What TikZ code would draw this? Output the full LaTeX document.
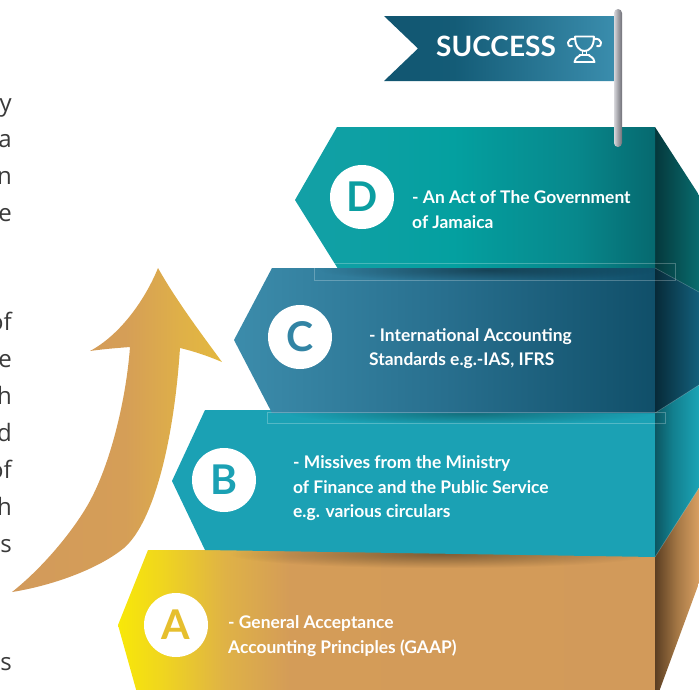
\documentclass[tikz,border=0pt]{standalone}
\usepackage{fontspec}
\setmainfont{Lato}
\newfontfamily\bodyfont{Open Sans}
\usetikzlibrary{fadings}

% palette
\definecolor{bodygrey}{HTML}{3A3A3A}
\definecolor{dLetter}{HTML}{0B9EA1}
\definecolor{cLetter}{HTML}{3284A4}
\definecolor{bLetter}{HTML}{1BA1B4}
\definecolor{aLetter}{HTML}{E6BF2E}
\definecolor{bFront}{HTML}{1BA1B4}

% horizontal colour ramps (the filled path spans 25bp to 75bp)
\pgfdeclarehorizontalshading{dfront}{100bp}{color(0bp)=({rgb,255:red,20;green,160;blue,166}); color(25bp)=({rgb,255:red,20;green,160;blue,166}); color(47bp)=({rgb,255:red,4;green,160;blue,160}); color(64bp)=({rgb,255:red,7;green,136;blue,140}); color(75bp)=({rgb,255:red,6;green,105;blue,111}); color(100bp)=({rgb,255:red,6;green,105;blue,111})}
\pgfdeclarehorizontalshading{dside}{100bp}{color(0bp)=({rgb,255:red,5;green,56;blue,60}); color(25bp)=({rgb,255:red,5;green,56;blue,60}); color(75bp)=({rgb,255:red,8;green,108;blue,110}); color(100bp)=({rgb,255:red,8;green,108;blue,110})}
\pgfdeclarehorizontalshading{cfront}{100bp}{color(0bp)=({rgb,255:red,60;green,140;blue,171}); color(25bp)=({rgb,255:red,60;green,140;blue,171}); color(50bp)=({rgb,255:red,40;green,111;blue,142}); color(75bp)=({rgb,255:red,16;green,79;blue,105}); color(100bp)=({rgb,255:red,16;green,79;blue,105})}
\pgfdeclarehorizontalshading{cside}{100bp}{color(0bp)=({rgb,255:red,7;green,42;blue,56}); color(25bp)=({rgb,255:red,7;green,42;blue,56}); color(75bp)=({rgb,255:red,19;green,96;blue,124}); color(100bp)=({rgb,255:red,19;green,96;blue,124})}
\pgfdeclarehorizontalshading{bside}{100bp}{color(0bp)=({rgb,255:red,12;green,86;blue,98}); color(25bp)=({rgb,255:red,12;green,86;blue,98}); color(45bp)=({rgb,255:red,18;green,127;blue,142}); color(75bp)=({rgb,255:red,27;green,164;blue,182}); color(100bp)=({rgb,255:red,27;green,164;blue,182})}
\pgfdeclarehorizontalshading{afront}{100bp}{color(0bp)=({rgb,255:red,248;green,232;blue,8}); color(25bp)=({rgb,255:red,248;green,232;blue,8}); color(29bp)=({rgb,255:red,240;green,214;blue,30}); color(35bp)=({rgb,255:red,223;green,178;blue,70}); color(41bp)=({rgb,255:red,212;green,156;blue,88}); color(75bp)=({rgb,255:red,210;green,154;blue,90}); color(100bp)=({rgb,255:red,210;green,154;blue,90})}
\pgfdeclarehorizontalshading{aside}{100bp}{color(0bp)=({rgb,255:red,91;green,62;blue,34}); color(25bp)=({rgb,255:red,91;green,62;blue,34}); color(50bp)=({rgb,255:red,164;green,119;blue,69}); color(75bp)=({rgb,255:red,217;green,160;blue,98}); color(100bp)=({rgb,255:red,217;green,160;blue,98})}
\pgfdeclarehorizontalshading{risegrad}{100bp}{color(0bp)=({rgb,255:red,210;green,154;blue,91}); color(25bp)=({rgb,255:red,210;green,154;blue,91}); color(52bp)=({rgb,255:red,213;green,158;blue,87}); color(65bp)=({rgb,255:red,223;green,176;blue,72}); color(75bp)=({rgb,255:red,227;green,184;blue,63}); color(100bp)=({rgb,255:red,227;green,184;blue,63})}
\pgfdeclarehorizontalshading{flaggrad}{100bp}{color(0bp)=({rgb,255:red,17;green,85;blue,112}); color(25bp)=({rgb,255:red,17;green,85;blue,112}); color(40bp)=({rgb,255:red,20;green,92;blue,119}); color(75bp)=({rgb,255:red,59;green,142;blue,174}); color(100bp)=({rgb,255:red,59;green,142;blue,174})}
\pgfdeclarehorizontalshading{polegrad}{100bp}{color(0bp)=({rgb,255:red,215;green,215;blue,219}); color(25bp)=({rgb,255:red,215;green,215;blue,219}); color(50bp)=({rgb,255:red,160;green,160;blue,166}); color(75bp)=({rgb,255:red,112;green,112;blue,119}); color(100bp)=({rgb,255:red,112;green,112;blue,119})}

\tikzfading[name=softshadow, inner color=transparent!0, outer color=transparent!100]

\tikzset{
  bodytext/.style={font=\bodyfont\fontsize{24}{28}\selectfont, text=bodygrey, anchor=base east, inner sep=0},
  steptext/.style={font=\fontsize{17.4}{20}\selectfont\bfseries, text=white, anchor=base west, inner sep=0},
  badge/.style={circle, fill=white, minimum size=64pt, inner sep=0, font=\fontsize{41}{41}\selectfont\bfseries},
  castshadow/.style={fill=black, path fading=softshadow},
  ghostline/.style={draw=white, draw opacity=0.25, line width=0.6pt},
  trophy/.style={draw=white, line width=1.9pt, line cap=round, line join=round}
}

\begin{document}
\begin{tikzpicture}[x=1pt, y=-1pt]
\useasboundingbox (0,0) rectangle (699,689);
\clip (0,0) rectangle (699,689);

% line endings of the paragraph on the left
\node[bodytext] (t1) at (12,111) {y};
\node[bodytext] (t2) at (12,147) {a};
\node[bodytext] (t3) at (12,184) {n};
\node[bodytext] (t4) at (12,221) {e};
\node[bodytext] (t5) at (12,330) {of};
\node[bodytext] (t6) at (12,367) {e};
\node[bodytext] (t7) at (12,404) {h};
\node[bodytext] (t8) at (12,441) {d};
\node[bodytext] (t9) at (12,478) {of};
\node[bodytext] (t10) at (12,515) {h};
\node[bodytext] (t11) at (12,552) {s};
\node[bodytext] (t12) at (12,670) {s};

% rising arrow
\shade[shading=risegrad]
  (158,268) .. controls (176,300) and (200,332) .. (222,362)
  .. controls (208,356) and (193,351) .. (180,348)
  .. controls (174,440) and (154,522) .. (124,548)
  .. controls (97,570) and (50,586) .. (12,592)
  .. controls (45,566) and (78,525) .. (92,497)
  .. controls (111,460) and (126,400) .. (130,347)
  .. controls (117,348) and (104,349) .. (90,351)
  .. controls (120,335) and (145,300) .. (158,268) -- cycle;

% step D
\shade[shading=dside] (655,127) -- (699,195) -- (699,300) -- (655,300) -- cycle;
\shade[shading=dfront] (337,127) -- (655,127) -- (655,272) -- (340,272) -- (295,200) -- cycle;
\node[badge, text=dLetter] (bD) at (362,197) {D};
\node[steptext] (d1) at (412,203) {- An Act of The Government};
\node[steptext] (d2) at (412,228) {of Jamaica};

% step A
\shade[shading=afront] (148,550) -- (655,550) -- (655,700) -- (139,700) -- (118,625) -- cycle;
\shade[shading=aside] (655,550) -- (699,470) -- (699,583) -- (656,700) -- (655,700) -- cycle;
\node[badge, text=aLetter] (bA) at (176,625) {A};
\node[steptext] (a1) at (228,628) {- General Acceptance};
\node[steptext] (a2) at (228,653) {Accounting Principles (GAAP)};

% shadow thrown onto A
\fill[castshadow, opacity=0.4] (230,540) rectangle (650,568);

% step B
\fill[bFront] (205,410) -- (655,410) -- (655,557) -- (205,550) -- (172,481) -- cycle;
\shade[shading=bside] (655,410) -- (699,375) -- (699,488) -- (655,557) -- cycle;
\node[badge, text=bLetter] (bB) at (224,480) {B};
\node[steptext] (b1) at (293,468) {- Missives from the Ministry};
\node[steptext] (b2) at (293,493) {of Finance and the Public Service};
\node[steptext] (b3) at (293,517) {e.g. various circulars};

% shadow thrown onto B
\fill[castshadow, opacity=0.3] (290,403) rectangle (650,424);

% step C
\shade[shading=cfront] (272,268) -- (655,268) -- (655,413) -- (272,413) -- (234,340) -- cycle;
\shade[shading=cside] (655,268) -- (699,292) -- (699,385) -- (655,413) -- cycle;
\node[badge, text=cLetter] (bC) at (300,337) {C};
\node[steptext] (c1) at (369,341) {- International Accounting};
\node[steptext] (c2) at (369,365) {Standards e.g.-IAS, IFRS};

% shadow of D on the top of C
\begin{scope}
  \clip (272,268) rectangle (655,300);
  \fill[castshadow, opacity=0.35] (320,259) rectangle (655,281);
\end{scope}

% faint guide outlines and edge highlights
\draw[ghostline] (314,263) rectangle (675,280);
\draw[ghostline] (267,412) rectangle (665,423);
\draw[ghostline] (655,268) -- (699,292);
\draw[ghostline] (655,413) -- (699,385);
\draw[ghostline] (655,557) -- (699,488);

% flag
\shade[shading=flaggrad] (384,16) -- (618,16) -- (618,81) -- (384,81) -- (418,48.5) -- cycle;
\node[font=\fontsize{28}{30}\selectfont\bfseries, text=white, anchor=base west, inner sep=0] (success) at (436,56) {SUCCESS};

% trophy icon
\draw[trophy] (575,36.5) -- (594,36.5)
  (575,36.5) .. controls (575,47) and (580,51) .. (584.5,51) .. controls (589,51) and (594,47) .. (594,36.5);
\draw[trophy] (575.5,39) .. controls (566,37) and (566,48) .. (572,46);
\draw[trophy] (593.5,39) .. controls (603,37) and (603,48) .. (597,46);
\draw[trophy] (582.5,51) -- (582.5,55) (586.5,51) -- (586.5,55) (579.5,55) -- (589.5,55);
\draw[trophy] (580,55.5) .. controls (576,57.5) and (574.5,60) .. (574.5,62) -- (594.5,62) .. controls (594.5,60) and (593,57.5) .. (589,55.5);

% flag pole
\shade[shading=polegrad, rounded corners=4pt] (614,9) rectangle (622,147);
\end{tikzpicture}
\end{document}
